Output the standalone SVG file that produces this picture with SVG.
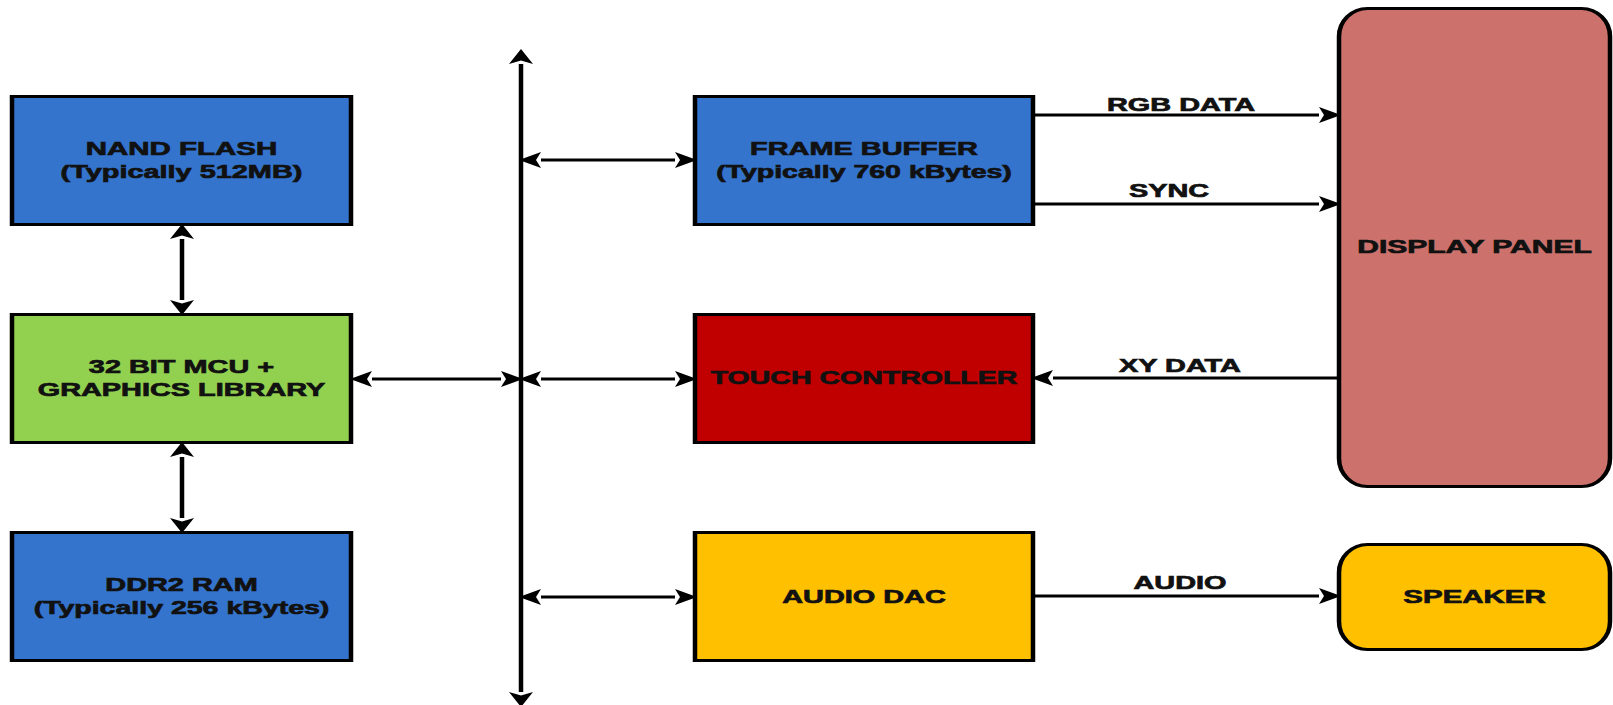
<svg xmlns="http://www.w3.org/2000/svg" width="1613" height="705" viewBox="0 0 1613 705">
<style>
.box{stroke:#000;stroke-width:3}
.blue{fill:#3474CC}
.green{fill:#92D050}
.red{fill:#C00000}
.yellow{fill:#FFC000}
.pink{fill:#CC716B}
.t{font-family:"Liberation Sans",Arial,sans-serif;font-weight:bold;font-size:19px;fill:#111;stroke:#111;stroke-width:0.7px;text-anchor:middle}
.h{fill:none;stroke:#000;stroke-width:3}
.v{fill:none;stroke:#000;stroke-width:4.5}
.hm{marker-start:url(#mH);marker-end:url(#mH)}
.he{marker-end:url(#mH)}
.vm{marker-start:url(#mV);marker-end:url(#mV)}
</style>
<defs>
<marker id="mH" markerUnits="userSpaceOnUse" orient="auto-start-reverse" viewBox="-1 -9 24 18" markerWidth="24" markerHeight="18" refX="0" refY="0" overflow="visible">
<path d="M0,-8 L22,0 L0,8 L5,0 z" fill="#000"/>
</marker>
<marker id="mV" markerUnits="userSpaceOnUse" orient="auto-start-reverse" viewBox="-1 -13 18 26" markerWidth="18" markerHeight="26" refX="0" refY="0" overflow="visible">
<path d="M0,-12 L15,0 L0,12 L3.5,0 z" fill="#000"/>
</marker>
</defs>
<rect width="1613" height="705" fill="#fff"/>

<g id="connectors">
<path class="v vm" d="M182,239 L182,300"/>
<path class="v vm" d="M182,457 L182,518"/>
<path class="v vm" d="M521,64 L521,692"/>
<path class="h hm" d="M372,379 L501,379"/>
<path class="h hm" d="M541,160 L675,160"/>
<path class="h hm" d="M541,379 L675,379"/>
<path class="h hm" d="M541,597 L675,597"/>
<path class="h he" d="M1035,115 L1319,115"/>
<path class="h he" d="M1035,204 L1319,204"/>
<path class="h he" d="M1337,378 L1053,378"/>
<path class="h he" d="M1035,596 L1319,596"/>
<text class="t" transform="translate(1181,111) scale(1.52,1)">RGB DATA</text>
<text class="t" transform="translate(1169,197) scale(1.52,1)">SYNC</text>
<text class="t" transform="translate(1180,372) scale(1.52,1)">XY DATA</text>
<text class="t" transform="translate(1180,589) scale(1.52,1)">AUDIO</text>
</g>

<g id="nand">
<rect class="box blue" transform="scale(1.5,1)" x="8" y="96.5" width="226" height="128"/>
<text class="t" transform="translate(181.5,155) scale(1.55,1)">NAND FLASH</text>
<text class="t" transform="translate(181.5,178) scale(1.52,1)">(Typically 512MB)</text>
</g>

<g id="mcu">
<rect class="box green" transform="scale(1.5,1)" x="8" y="314.5" width="226" height="128"/>
<text class="t" transform="translate(181.5,373) scale(1.52,1)">32 BIT MCU +</text>
<text class="t" transform="translate(181.5,396) scale(1.52,1)">GRAPHICS LIBRARY</text>
</g>

<g id="ddr">
<rect class="box blue" transform="scale(1.5,1)" x="8" y="532.5" width="226" height="128"/>
<text class="t" transform="translate(181.5,591) scale(1.52,1)">DDR2 RAM</text>
<text class="t" transform="translate(181.5,614) scale(1.5,1)">(Typically 256 kBytes)</text>
</g>

<g id="framebuffer">
<rect class="box blue" transform="scale(1.5,1)" x="463.33" y="96.5" width="225.33" height="128"/>
<text class="t" transform="translate(864,155) scale(1.52,1)">FRAME BUFFER</text>
<text class="t" transform="translate(864,178) scale(1.5,1)">(Typically 760 kBytes)</text>
</g>

<g id="touch">
<rect class="box red" transform="scale(1.5,1)" x="463.33" y="314.5" width="225.33" height="128"/>
<text class="t" transform="translate(864,384) scale(1.5,1)">TOUCH CONTROLLER</text>
</g>

<g id="audiodac">
<rect class="box yellow" transform="scale(1.5,1)" x="463.33" y="532.5" width="225.33" height="128"/>
<text class="t" transform="translate(864,603) scale(1.52,1)">AUDIO DAC</text>
</g>

<g id="display">
<rect class="box pink" transform="scale(1.5,1)" x="892.67" y="8.5" width="180.67" height="478" rx="19" ry="28"/>
<text class="t" transform="translate(1474.5,253) scale(1.58,1)">DISPLAY PANEL</text>
</g>

<g id="speaker">
<rect class="box yellow" transform="scale(1.5,1)" x="892.67" y="544.5" width="180.67" height="105" rx="19" ry="28"/>
<text class="t" transform="translate(1474.5,603) scale(1.55,1)">SPEAKER</text>
</g>
</svg>
